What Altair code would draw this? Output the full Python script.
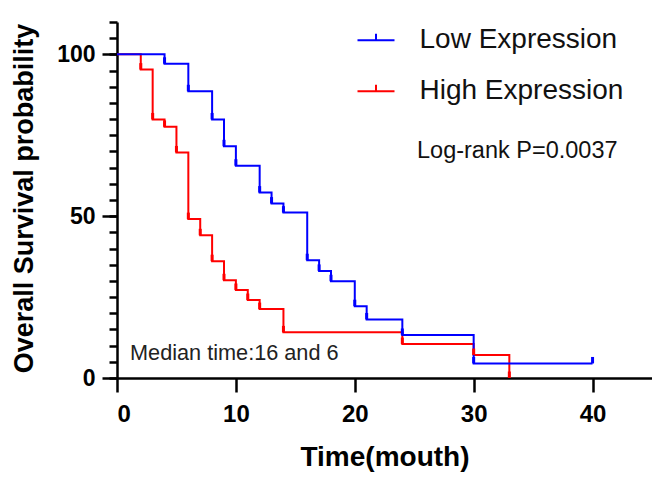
import altair as alt
import pandas as pd

# ---- data ----
groups = ["Low Expression", "High Expression"]
colors = ["#0000FF", "#FF0000"]

low_time = [0, 4, 6, 8, 9, 10, 12, 13, 14, 16, 17, 18, 20, 21, 24, 30, 40]
low_surv = [100, 97.1, 88.6, 79.9, 71.6, 65.6, 57.3, 53.9, 51.1, 36.4, 33.1, 29.9, 22.2, 18.1, 13.3, 4.5, 4.5]

high_time = [0, 2, 3, 4, 5, 6, 7, 8, 9, 10, 11, 12, 14, 24, 30, 33]
high_surv = [100, 95.3, 79.9, 77.6, 69.7, 49.1, 44.1, 36.1, 30.2, 27.2, 24.1, 21.3, 14.1, 10.5, 7.1, 0]

x_ticks = [0, 10, 20, 30, 40]
y_major = [0, 50, 100]
y_minor = list(range(0, 115, 5))

median_text = ["Median time:16 and 6"]
logrank_text = ["Log-rank P=0.0037"]

rows = []
for t, s in zip(high_time, high_surv):
    rows.append({"group": "High Expression", "time": t, "surv": s})
for t, s in zip(low_time, low_surv):
    rows.append({"group": "Low Expression", "time": t, "surv": s})
df = pd.DataFrame(rows)

FONT = "Liberation Sans"

xscale = alt.Scale(domain=[0, 45], nice=False, zero=True)
yscale = alt.Scale(domain=[0, 110], nice=False)

x_axis = alt.Axis(
    values=x_ticks, grid=False, domainColor="black", domainWidth=2.5,
    tickColor="black", tickWidth=2.5, tickSize=14,
    labelFont=FONT, labelFontSize=24, labelFontWeight="bold", labelColor="black",
    labelPadding=10,
    title="Time(mouth)", titleFont=FONT, titleFontSize=28, titleFontWeight="bold",
    titleColor="black", titleX=267.5, titleY=87, titleAlign="center",
    titleBaseline="alphabetic",
)

y_axis_major = alt.Axis(
    values=y_major, orient="left", grid=False, domainColor="black", domainWidth=2.5,
    tickColor="black", tickWidth=2.5, tickSize=15,
    labelFont=FONT, labelFontSize=23, labelFontWeight="bold", labelColor="black",
    labelPadding=7,
    title="Overall Survival probability", titleFont=FONT, titleFontSize=27,
    titleFontWeight="bold", titleColor="black", titleX=-93, titleY=176,
    titleAngle=270, titleAlign="center", titleBaseline="middle",
)

y_axis_minor = alt.Axis(
    values=y_minor, orient="left", grid=False, domain=False, labels=False,
    tickColor="black", tickWidth=2.5, tickSize=8, title=None,
)

legend = alt.Legend(
    title=None, orient="none", legendX=239.5, legendY=-1.2, padding=0,
    symbolType="M-1,0H1M0,0V-0.36", symbolSize=1369, symbolStrokeWidth=2,
    symbolFillColor="transparent",
    labelFont=FONT, labelFontSize=28, labelColor="#111111", labelOffset=24,
    rowPadding=17, labelLimit=400,
)

color = alt.Color("group:N", scale=alt.Scale(domain=groups, range=colors), legend=legend)

lines = alt.Chart(df).mark_line(interpolate="step-after", strokeWidth=2).encode(
    x=alt.X("time:Q", scale=xscale, axis=x_axis),
    y=alt.Y("surv:Q", scale=yscale, axis=y_axis_major),
    color=color,
)

ticks = alt.Chart(df).transform_filter("datum.time > 0").transform_calculate(
    top="datum.surv + 2"
).mark_rule(strokeWidth=3).encode(
    x=alt.X("time:Q", scale=xscale, axis=x_axis),
    y=alt.Y("surv:Q", scale=yscale, axis=y_axis_minor),
    y2="top:Q",
    color=color,
)

median = alt.Chart(pd.DataFrame({"label": median_text})).mark_text(
    font=FONT, fontSize=21.7, color="#222222", align="left", baseline="alphabetic"
).encode(x=alt.value(13), y=alt.value(338), text="label:N")

logrank = alt.Chart(pd.DataFrame({"label": logrank_text})).mark_text(
    font=FONT, fontSize=23.5, color="#111111", align="left", baseline="alphabetic"
).encode(x=alt.value(300), y=alt.value(136), text="label:N")

chart = alt.layer(lines, ticks, median, logrank).resolve_axis(y="independent").properties(
    width=535, height=356,
    autosize=alt.AutoSizeParams(type="none"),
    padding={"left": 109, "top": 14, "right": 0, "bottom": 96},
).configure_view(stroke=None)

chart.save("out.html", embed_options={"renderer": "svg", "actions": False})
